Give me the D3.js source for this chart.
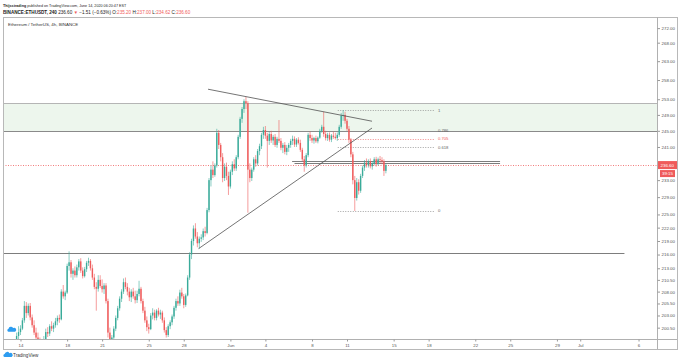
<!DOCTYPE html>
<html>
<head>
<meta charset="utf-8">
<script src="https://cdn.jsdelivr.net/npm/d3@7"></script>
<style>
  body { margin: 0; background: #fff; }
  svg { display: block; font-family: "Liberation Sans", Arial, sans-serif; }
</style>
</head>
<body>
<svg id="chart" width="680" height="363"></svg>
<script>
// ETHUSDT 4h bars, first bar opens May 13 2020 12:00 UTC
var startTime = Date.UTC(2020, 4, 13, 12);
var barMs = 4 * 3600 * 1000;

// [open, high, low, close], one row per day (6 bars)
var ohlc = [
  [196.0,198.0,195.0,197.0],[197.0,199.5,196.5,198.8],[198.8,200.8,198.0,199.6],
  // May 14
  [199.6,201.0,199.0,200.3],[200.3,202.5,200.0,202.0],[202.0,206.0,201.5,205.0],[205.0,205.8,202.5,203.5],[203.5,205.5,203.0,205.0],[205.0,205.6,202.0,202.6],
  // May 15
  [202.6,203.2,200.5,201.0],[201.0,202.0,199.0,199.5],[199.5,200.5,197.8,198.5],[198.5,199.5,196.0,197.0],[197.0,198.5,195.0,196.0],[196.0,197.5,194.5,195.5],
  // May 16
  [195.5,198.8,195.0,198.2],[198.2,200.3,197.5,199.6],[199.6,200.6,198.6,199.3],[199.3,201.2,198.8,200.8],[200.8,201.8,199.8,200.3],[200.3,201.5,199.6,201.0],
  // May 17
  [201.0,202.5,200.5,201.8],[201.8,203.0,201.0,202.5],[202.5,203.2,201.5,202.2],[202.2,208.5,202.0,208.0],[208.0,209.4,206.5,207.0],[207.0,208.2,206.2,207.8],
  // May 18
  [207.8,214.0,207.5,213.5],[213.5,216.7,212.5,214.3],[214.3,214.8,211.0,211.8],[211.8,213.0,210.5,212.5],[212.5,213.4,211.0,211.5],[211.5,213.8,211.0,213.2],
  // May 19
  [213.2,215.0,212.5,214.5],[214.5,215.2,212.0,212.5],[212.5,213.2,210.8,211.3],[211.3,213.3,211.0,212.8],[212.8,214.6,212.2,214.2],[214.2,215.3,213.5,214.6],
  // May 20
  [214.6,215.0,212.5,213.0],[213.0,213.8,210.5,211.0],[211.0,211.8,208.5,209.0],[209.0,210.0,204.0,208.6],[208.6,211.5,208.0,210.5],[210.5,211.5,208.8,209.2],
  // May 21
  [209.2,210.6,207.8,208.5],[208.5,209.8,207.5,209.3],[209.3,209.8,205.5,206.0],[206.0,206.5,198.5,199.5],[199.5,200.5,196.0,197.5],[197.5,199.0,196.5,198.5],
  // May 22
  [198.5,200.8,197.8,200.3],[200.3,203.0,199.8,202.5],[202.5,205.0,202.0,204.5],[204.5,207.0,204.0,206.5],[206.5,208.5,205.8,208.0],[208.0,210.8,207.5,210.0],
  // May 23
  [210.0,211.0,208.5,209.0],[209.0,209.8,207.2,208.0],[208.0,208.8,206.0,206.8],[206.8,208.5,205.8,208.0],[208.0,208.8,206.5,207.0],[207.0,208.2,205.5,206.2],
  // May 24
  [206.2,208.2,205.6,207.5],[207.5,210.3,207.0,208.6],[208.6,209.0,205.5,206.0],[206.0,206.5,203.5,204.0],[204.0,204.8,201.5,202.0],[202.0,202.8,199.8,200.6],
  // May 25
  [200.6,201.3,199.3,200.2],[200.2,203.5,200.0,203.0],[203.0,204.5,202.2,203.6],[203.6,204.2,202.0,202.5],[202.5,204.3,202.0,204.0],[204.0,204.6,202.8,203.2],
  // May 26
  [203.2,204.2,202.3,203.6],[203.6,204.0,201.5,202.0],[202.0,202.6,199.5,200.0],[200.0,200.6,198.5,199.0],[199.0,201.2,198.6,200.8],[200.8,202.0,200.2,201.6],
  // May 27
  [201.6,203.2,201.0,202.8],[202.8,205.0,202.3,204.6],[204.6,206.5,204.0,206.0],[206.0,207.0,205.0,205.5],[205.5,208.4,205.0,207.8],[207.8,208.8,206.5,207.0],
  // May 28
  [207.0,207.5,204.5,205.2],[205.2,207.6,204.8,207.2],[207.2,211.5,207.0,211.0],[211.0,216.5,210.5,216.0],[216.0,219.5,215.0,219.0],[219.0,222.5,218.0,221.8],
  // May 29
  [221.8,223.0,219.5,220.0],[220.0,221.0,217.6,218.5],[218.5,220.0,217.3,219.5],[219.5,220.5,218.8,219.8],[219.8,221.8,219.2,221.2],[221.2,222.2,220.0,220.8],
  // May 30
  [220.8,226.5,220.5,226.0],[226.0,233.5,225.5,233.0],[233.0,236.5,231.5,235.5],[235.5,237.5,233.5,234.2],[234.2,237.0,233.8,236.5],[236.5,245.5,236.0,244.5],
  // May 31
  [244.5,245.2,240.5,241.5],[241.5,242.0,237.5,238.5],[238.5,239.5,232.5,233.5],[233.5,237.0,232.8,236.2],[236.2,237.2,233.0,234.0],[234.0,235.0,229.5,231.5],
  // Jun 1
  [231.5,235.5,231.0,235.0],[235.0,237.5,234.2,236.8],[236.8,238.0,235.2,235.8],[235.8,239.0,235.2,238.5],[238.5,244.0,238.0,243.5],[243.5,248.5,243.0,248.0],
  // Jun 2
  [248.0,251.0,247.0,250.5],[250.5,253.0,249.5,252.5],[252.5,253.6,250.5,252.0],[252.0,252.5,225.4,235.5],[235.5,237.0,232.5,233.5],[233.5,236.0,232.8,235.5],
  // Jun 3
  [235.5,238.5,235.0,238.0],[238.0,239.0,236.2,237.0],[237.0,240.5,236.5,240.0],[240.0,241.8,239.0,241.2],[241.2,244.5,240.5,244.0],[244.0,246.0,243.0,245.2],
  // Jun 4
  [245.2,246.2,243.0,243.8],[243.8,244.5,236.0,242.5],[242.5,244.8,241.5,244.2],[244.2,245.0,242.0,242.6],[242.6,244.0,241.5,243.5],[243.5,244.2,241.0,241.5],
  // Jun 5
  [241.5,243.5,240.8,243.0],[243.0,247.7,242.0,242.5],[242.5,243.2,240.2,240.8],[240.8,242.0,239.5,241.5],[241.5,242.2,239.2,239.8],[239.8,241.5,239.0,240.8],
  // Jun 6
  [240.8,242.0,239.8,241.5],[241.5,243.0,240.8,242.5],[242.5,243.8,241.5,243.0],[243.0,243.6,241.0,241.6],[241.6,243.2,241.0,242.8],[242.8,243.4,241.6,242.0],
  // Jun 7
  [242.0,242.8,239.8,240.3],[240.3,240.8,237.5,238.0],[238.0,238.8,235.0,236.5],[236.5,239.5,236.0,239.0],[239.0,244.5,238.5,244.0],[244.0,244.8,242.5,243.2],
  // Jun 8
  [243.2,244.0,242.0,242.6],[242.6,243.5,241.8,243.2],[243.2,243.8,242.0,242.4],[242.4,243.6,241.9,243.3],[243.3,245.5,243.0,245.0],[245.0,246.5,244.5,246.0],
  // Jun 9
  [246.0,249.8,243.5,244.2],[244.2,245.0,242.6,243.2],[243.2,244.5,242.5,244.0],[244.0,244.6,242.3,242.8],[242.8,244.2,242.2,243.8],[243.8,244.8,243.0,243.5],
  // Jun 10
  [243.5,244.5,242.8,243.2],[243.2,244.6,242.5,244.0],[244.0,246.5,243.5,246.0],[246.0,249.5,245.5,248.8],[248.8,250.2,247.5,249.0],[249.0,249.8,246.8,247.5],
  // Jun 11
  [247.5,248.0,245.0,245.5],[245.5,246.2,242.0,242.8],[242.8,243.2,238.5,239.2],[239.2,239.8,232.0,233.0],[233.0,234.0,225.8,228.8],[228.8,233.5,228.2,232.5],
  // Jun 12
  [232.5,233.2,229.6,230.5],[230.5,234.5,230.0,234.0],[234.0,236.5,233.5,236.0],[236.0,237.8,235.2,237.2],[237.2,238.2,236.0,236.6],[236.6,238.0,236.0,237.5],
  // Jun 13
  [237.5,238.2,235.8,236.3],[236.3,237.5,235.5,237.0],[237.0,238.5,236.5,238.0],[238.0,238.6,236.2,236.8],[236.8,238.4,236.5,238.0],[238.0,238.8,237.0,237.8],
  // Jun 14
  [237.8,238.5,236.8,237.5],[237.5,238.0,234.0,235.2],[235.2,237.0,234.62,236.6]
];

var priceTicks = [272, 268, 263, 258, 253, 249, 245, 241, 233, 229, 225, 222, 219, 216, 213, 210.5, 208, 205.5, 203, 200.5];
var dateTicks = [
  Date.UTC(2020,4,14), Date.UTC(2020,4,18), Date.UTC(2020,4,21), Date.UTC(2020,4,25), Date.UTC(2020,4,28),
  Date.UTC(2020,5,1), Date.UTC(2020,5,4), Date.UTC(2020,5,8), Date.UTC(2020,5,11), Date.UTC(2020,5,15),
  Date.UTC(2020,5,18), Date.UTC(2020,5,22), Date.UTC(2020,5,25), Date.UTC(2020,5,29), Date.UTC(2020,6,1), Date.UTC(2020,6,6)
];
var dateLabels = ["14","18","21","25","28","Jun","4","8","11","15","18","22","25","29","Jul","6"];

// drawings
var zone = [252.0, 244.9];
var trendLines = [
  [[Date.UTC(2020,4,30,2), 255.6], [Date.UTC(2020,5,13,3,30), 247.4]],
  [[Date.UTC(2020,4,29,6,30), 217.3], [Date.UTC(2020,5,13,3,30), 245.7]]
];
var hLines = [
  { price: 216.4, from: Date.UTC(2020,4,12,12), to: Date.UTC(2020,6,4,19) },
  { price: 237.65, from: Date.UTC(2020,5,6,7), to: Date.UTC(2020,5,24,3) },
  { price: 237.1, from: Date.UTC(2020,5,6,12), to: Date.UTC(2020,5,24,3) }
];
var fibHigh = 250.2, fibLow = 225.8;
var fibFrom = Date.UTC(2020,5,10,5), fibTo = Date.UTC(2020,5,18,13);
var fibRatios = [1, 0.786, 0.705, 0.618, 0];
var fibLabels = ["1", "0.786", "0.705", "0.618", "0"];
var lastPrice = 236.6;

var up = "#3aab9a", down = "#ef5b5b";
var plot = { left: 3, right: 657, top: 17, bottom: 339 };
var frame = { right: 677, bottom: 349 };

var svg = d3.select('#chart');

var x = d3.scaleUtc()
  .domain([Date.UTC(2020,4,12,12), Date.UTC(2020,6,7,14)])
  .range([plot.left, plot.right]);
var y = d3.scaleLog()
  .domain([198.2, 275.1])
  .range([plot.bottom, plot.top]);

// header
var head = svg.append('g').attr('fill', '#222');
var h1 = head.append('text').attr('x', 3).attr('y', 6.5).attr('font-size', 3.7);
h1.append('tspan').attr('font-weight', 'bold').text('Thijsstrading');
h1.append('tspan').text(' published on TradingView.com, June 14, 2020 06:20:47 EST');
var h2 = head.append('text').attr('x', 3).attr('y', 13.5).attr('font-size', 4.6);
h2.append('tspan').attr('font-weight', 'bold').text('BINANCE:ETHUSDT, 240');
h2.append('tspan').text(' 236.60 ');
h2.append('tspan').attr('fill', down).text('\u25BC');
h2.append('tspan').text(' \u22121.51 (\u22120.63%) O:');
h2.append('tspan').attr('fill', down).text('235.20');
h2.append('tspan').text(' H:');
h2.append('tspan').attr('fill', down).text('237.00');
h2.append('tspan').text(' L:');
h2.append('tspan').attr('fill', down).text('234.62');
h2.append('tspan').text(' C:');
h2.append('tspan').attr('fill', down).text('236.60');

// frame
svg.append('rect')
  .attr('x', plot.left + 0.5).attr('y', plot.top + 0.5)
  .attr('width', frame.right - plot.left).attr('height', frame.bottom - plot.top)
  .attr('fill', 'none').attr('stroke', '#b8b8b8');

svg.append('defs').append('clipPath').attr('id', 'plotClip')
  .append('rect')
  .attr('x', plot.left + 1).attr('y', plot.top + 1)
  .attr('width', plot.right - plot.left - 1).attr('height', plot.bottom - plot.top - 1);

var g = svg.append('g').attr('clip-path', 'url(#plotClip)');

// zone
g.append('rect')
  .attr('x', plot.left).attr('width', plot.right - plot.left)
  .attr('y', y(zone[0])).attr('height', y(zone[1]) - y(zone[0]))
  .attr('fill', '#edf6ed');
g.selectAll('.zoneEdge').data(zone).enter().append('line')
  .attr('x1', plot.left).attr('x2', plot.right)
  .attr('y1', function(d) { return Math.round(y(d)) + 0.5; })
  .attr('y2', function(d) { return Math.round(y(d)) + 0.5; })
  .attr('stroke', function(d, i) { return i === 0 ? '#b5b5b5' : '#8a8a8a'; });

// last price line
g.append('line')
  .attr('x1', plot.left).attr('x2', plot.right)
  .attr('y1', Math.round(y(lastPrice)) + 0.5).attr('y2', Math.round(y(lastPrice)) + 0.5)
  .attr('stroke', down).attr('stroke-dasharray', '1,1.5').attr('stroke-width', 0.8);

// horizontal levels
g.selectAll('.hl').data(hLines).enter().append('line')
  .attr('x1', function(d) { return x(d.from); })
  .attr('x2', function(d) { return x(d.to); })
  .attr('y1', function(d) { return Math.round(y(d.price)) + 0.5; })
  .attr('y2', function(d) { return Math.round(y(d.price)) + 0.5; })
  .attr('stroke', '#7d7d7d').attr('stroke-width', 1);

// fib retracement
var fibs = fibRatios.map(function(r, i) {
  return { price: fibLow + r * (fibHigh - fibLow), label: fibLabels[i], red: r === 0.705 };
});
g.selectAll('.fib').data(fibs).enter().append('line')
  .attr('x1', x(fibFrom)).attr('x2', x(fibTo))
  .attr('y1', function(d) { return Math.round(y(d.price)) + 0.5; })
  .attr('y2', function(d) { return Math.round(y(d.price)) + 0.5; })
  .attr('stroke', function(d) { return d.red ? '#ef7070' : '#8c8c8c'; })
  .attr('stroke-dasharray', '1,1.5').attr('stroke-width', 0.8);
g.selectAll('.fibText').data(fibs).enter().append('text')
  .attr('x', x(fibTo) + 3)
  .attr('y', function(d) { return y(d.price) + 1.5; })
  .attr('font-size', 4.2)
  .attr('fill', function(d) { return d.red ? '#ef5b5b' : '#666'; })
  .text(function(d) { return d.label; });

// candles
var bw = 1.4;
var candle = g.selectAll('.c').data(ohlc).enter().append('g')
  .attr('fill', function(d) { return d[3] >= d[0] ? up : down; })
  .attr('stroke', function(d) { return d[3] >= d[0] ? up : down; });
candle.append('line')
  .attr('x1', function(d, i) { return x(startTime + i * barMs); })
  .attr('x2', function(d, i) { return x(startTime + i * barMs); })
  .attr('y1', function(d) { return y(d[1]); })
  .attr('y2', function(d) { return y(d[2]); })
  .attr('stroke-width', 0.6);
candle.append('rect')
  .attr('stroke', 'none')
  .attr('x', function(d, i) { return x(startTime + i * barMs) - bw / 2; })
  .attr('width', bw)
  .attr('y', function(d) { return y(Math.max(d[0], d[3])); })
  .attr('height', function(d) { return Math.max(0.6, Math.abs(y(d[0]) - y(d[3]))); });

// trend lines
g.selectAll('.tl').data(trendLines).enter().append('line')
  .attr('x1', function(d) { return x(d[0][0]); })
  .attr('y1', function(d) { return y(d[0][1]); })
  .attr('x2', function(d) { return x(d[1][0]); })
  .attr('y2', function(d) { return y(d[1][1]); })
  .attr('stroke', '#505050').attr('stroke-width', 0.8);

// watermark cloud
function cloud(sel, cx, cy, s, color) {
  sel.append('path')
    .attr('transform', 'translate(' + cx + ',' + cy + ') scale(' + s + ')')
    .attr('d', 'M1.5,6 A1.6,1.6 0 0 1 1.6,2.9 A2.6,2.6 0 0 1 6.4,2.2 A1.9,1.9 0 0 1 8.6,6 Z')
    .attr('fill', color);
}
cloud(svg, 7, 326, 0.95, '#2d9cf0');

// axes lines
svg.append('line')
  .attr('x1', plot.left).attr('x2', frame.right)
  .attr('y1', plot.bottom + 0.5).attr('y2', plot.bottom + 0.5)
  .attr('stroke', '#b0b0b0');
svg.append('line')
  .attr('x1', plot.right + 0.5).attr('x2', plot.right + 0.5)
  .attr('y1', plot.top).attr('y2', frame.bottom)
  .attr('stroke', '#b0b0b0');

// y axis
var yAxis = d3.axisRight(y)
  .tickValues(priceTicks)
  .tickFormat(d3.format('.2f'))
  .tickSize(2.5).tickPadding(1.5);
var ya = svg.append('g').attr('transform', 'translate(' + (plot.right + 0.5) + ',0)').call(yAxis);
ya.select('.domain').remove();
ya.selectAll('line').attr('stroke', '#999');
ya.selectAll('text').attr('font-size', 4.4).attr('fill', '#555').attr('font-family', null);

// x axis
var xAxis = d3.axisBottom(x)
  .tickValues(dateTicks.map(function(t) { return new Date(t); }))
  .tickFormat(function(d, i) { return dateLabels[i]; })
  .tickSize(2).tickPadding(2);
var xa = svg.append('g').attr('transform', 'translate(0,' + (plot.bottom + 0.5) + ')').call(xAxis);
xa.select('.domain').remove();
xa.selectAll('line').attr('stroke', '#999');
xa.selectAll('text').attr('font-size', 4.4).attr('fill', '#555').attr('font-family', null);

// last price labels
var lp = svg.append('g');
lp.append('rect')
  .attr('x', plot.right + 1).attr('y', y(lastPrice) - 4)
  .attr('width', frame.right - plot.right - 1).attr('height', 8)
  .attr('fill', down);
lp.append('text')
  .attr('x', plot.right + 3.5).attr('y', y(lastPrice) + 1.6)
  .attr('font-size', 4.4).attr('fill', '#fff').text(d3.format('.2f')(lastPrice));
lp.append('rect')
  .attr('x', plot.right + 3).attr('y', y(lastPrice) + 5)
  .attr('width', frame.right - plot.right - 5).attr('height', 7)
  .attr('fill', down);
lp.append('text')
  .attr('x', plot.right + 5).attr('y', y(lastPrice) + 10.1)
  .attr('font-size', 4.4).attr('fill', '#fff').text('39:15');

// footer logo
cloud(svg, 3, 351, 1, '#2d9cf0');
svg.append('text')
  .attr('x', 13).attr('y', 357)
  .attr('font-size', 4.6).attr('fill', '#333')
  .text('TradingView');

// chart title inside frame
svg.append('text')
  .attr('x', 8).attr('y', 26)
  .attr('font-size', 4.4).attr('fill', '#333')
  .text('Ethereum / TetherUS, 4h, BINANCE');
</script>
</body>
</html>
